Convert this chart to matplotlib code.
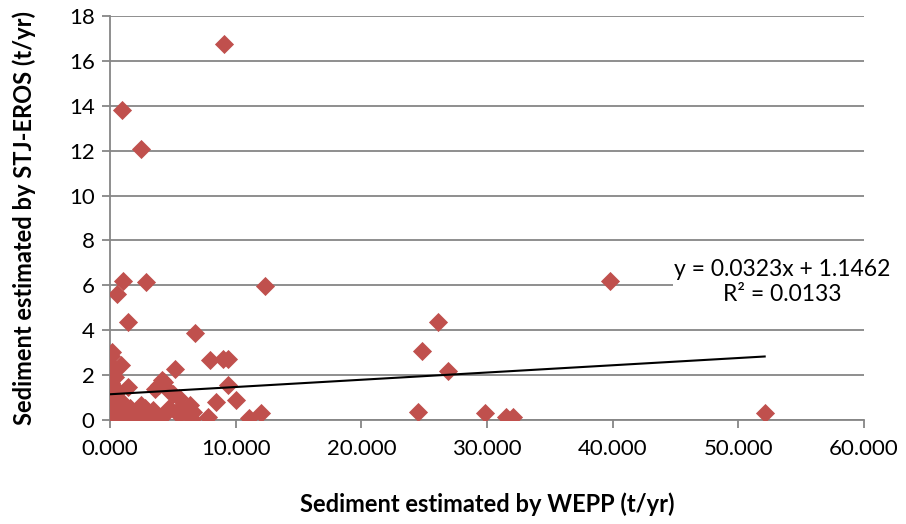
import matplotlib.pyplot as plt
import numpy as np

plt.rcParams['font.family'] = ['Lato', 'DejaVu Sans']

# sediment estimates per site (t/yr)
wepp = [0.15, 0.05, 0.9, 0.1, 0.3, 0.1, 0.4, 1.4, 0.05, 0.3,
        0.8, 0.1, 0.5, 0.05, 0.3, 0.9, 1.2, 1.6, 1.8, 2.2,
        2.5, 2.9, 3.0, 3.4, 3.55, 3.9, 4.3, 4.6, 4.0, 4.3,
        4.7, 5.0, 5.2, 5.5, 5.5, 5.66, 6.35, 6.6, 6.5, 6.75,
        7.8, 7.94, 8.47, 9.0, 9.4, 9.4, 10.05, 11.1, 12.0, 12.3,
        1.06, 2.83, 0.53, 1.46, 9.05, 0.93, 2.5, 0.6, 2.78, 4.1,
        24.5, 24.8, 26.1, 26.9, 29.84, 31.5, 32.1, 39.8, 52.1]
stj_eros = [3.05, 2.85, 2.45, 2.15, 2.3, 1.65, 1.9, 1.45, 1.2, 1.0,
            0.9, 0.6, 0.4, 0.2, 0.05, 0.1, 0.3, 0.55, 0.05, 0.25,
            0.67, 0.2, 0.05, 0.45, 1.4, 1.55, 1.7, 1.35, 0.1, 0.2,
            0.52, 1.15, 2.27, 0.98, 0.2, 0.6, 0.67, 0.37, 0.05, 3.89,
            0.15, 2.67, 0.82, 2.7, 2.7, 1.56, 0.89, 0.07, 0.3, 5.98,
            6.2, 6.16, 5.61, 4.38, 16.75, 13.8, 12.07, 1.3, 0.53, 1.78,
            0.37, 3.09, 4.35, 2.18, 0.33, 0.15, 0.12, 6.2, 0.33]

slope = 0.0323
intercept = 1.1462
r2 = 0.0133

fig = plt.figure(figsize=(9.06, 5.24), dpi=100)
ax = fig.add_axes([0.1214, 0.1985, 0.9536 - 0.1214, 0.9695 - 0.1985])

grey = '#868686'
ax.scatter(wepp, stj_eros, marker='D', s=95, color='#C0504D', linewidths=0, zorder=3)

# linear trendline over the range of the data
xt = np.array([0, max(wepp)])
ax.plot(xt, slope * xt + intercept, color='black', lw=1.5, zorder=4)

ax.set_xlim(0, 60)
ax.set_ylim(0, 18)
ax.set_xticks(range(0, 61, 10))
ax.set_xticklabels(['%d.000' % v for v in range(0, 61, 10)])
ax.set_yticks(range(0, 19, 2))

ax.grid(axis='y', color=grey, lw=1.3)
ax.set_axisbelow(True)
for side in ['top', 'right']:
    ax.spines[side].set_visible(False)
for side in ['left', 'bottom']:
    ax.spines[side].set_color(grey)
    ax.spines[side].set_linewidth(1.3)
ax.tick_params(axis='both', colors=grey, length=6, width=1.3, labelsize=16,
               labelcolor='black', direction='out')
ax.tick_params(axis='x', pad=8)
ax.tick_params(axis='y', pad=5)

ax.set_xlabel('Sediment estimated by WEPP (t/yr)', fontsize=17, fontweight='bold', labelpad=24)
ax.set_ylabel('Sediment estimated by STJ-EROS (t/yr)', fontsize=17, fontweight='bold', labelpad=24)

ax.text(53.5, 6.15, 'y = %.4fx + %.4f\nR² = %.4f' % (slope, intercept, r2),
        ha='center', va='center', fontsize=16.5, linespacing=1.2, clip_on=False, zorder=5,
        bbox=dict(facecolor='white', edgecolor='none', pad=1))

fig.savefig('out.png', dpi=100)
